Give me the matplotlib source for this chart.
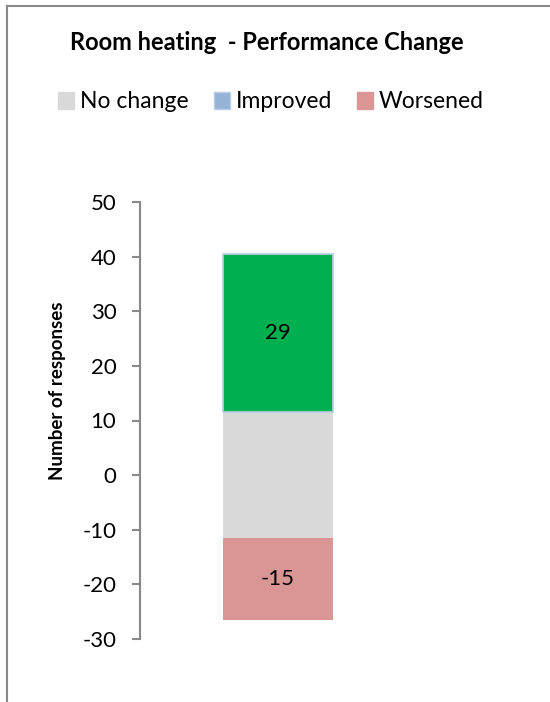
import matplotlib
matplotlib.use("Agg")
import matplotlib.pyplot as plt
from matplotlib.patches import Patch
from matplotlib.lines import Line2D

# data
categories = ["Room heating"]
no_change = [23]
improved = [29]
worsened = [-15]
series_names = ["No change", "Improved", "Worsened"]

plt.rcParams['font.family'] = ['Lato', 'DejaVu Sans']
plt.rcParams['axes.unicode_minus'] = False

c_none = "#d9d9d9"
c_imp = "#00b050"
c_imp_legend = "#95b3d7"
c_wor = "#da9694"
grey = "#898989"

fig = plt.figure(figsize=(5.5, 7.02), dpi=100)
ax = fig.add_axes([140/550, 1-639/702, 276/550, 437/702])

x = range(len(categories))
base = [-v/2 for v in no_change]
top = [b + v for b, v in zip(base, no_change)]
ax.bar(x, no_change, bottom=base, width=0.4, color=c_none, zorder=2)
ax.bar(x, improved, bottom=top, width=0.4, color=c_imp, edgecolor="#b9cde5", linewidth=1.2, zorder=3)
ax.bar(x, worsened, bottom=base, width=0.4, color=c_wor, zorder=2)

for i in x:
    ax.text(i, top[i] + improved[i]/2, str(improved[i]), ha="center", va="center", fontsize=16)
    ax.text(i, base[i] + worsened[i]/2, str(worsened[i]), ha="center", va="center", fontsize=16)

ax.set_xlim(-0.5, 0.5)
ax.set_ylim(-30, 50)
ax.set_yticks(range(-30, 51, 10))
ax.set_xticks([])
for s in ["top", "right", "bottom"]:
    ax.spines[s].set_visible(False)
ax.spines["left"].set_color(grey)
ax.spines["left"].set_linewidth(1.5)
ax.tick_params(axis="y", direction="out", length=6, width=1.5, color=grey, labelsize=16, pad=11)

fig.text(57/550, 1-391/702, "Number of responses", rotation=90, ha="center", va="center",
         fontsize=13.5, fontweight="bold")
fig.text(267/550, 1-43/702, "Room heating  - Performance Change", ha="center", va="center",
         fontsize=17, fontweight="bold")

handles = [
    Patch(facecolor=c_none, edgecolor=c_none, label=series_names[0]),
    Patch(facecolor=c_imp_legend, edgecolor="#b9cde5", label=series_names[1]),
    Patch(facecolor=c_wor, edgecolor=c_wor, label=series_names[2]),
]
fig.legend(handles=handles, loc="center", bbox_to_anchor=(271/550, 1-102/702), ncol=3,
           frameon=False, fontsize=16.5, handlelength=0.7, handleheight=0.7,
           handletextpad=0.25, columnspacing=1.1, borderaxespad=0)

# chart border (partly clipped)
fig.add_artist(Line2D([6.5/550, 6.5/550], [0, 1-5.5/702], color=grey, lw=1.5, transform=fig.transFigure))
fig.add_artist(Line2D([6.5/550, 1], [1-5.5/702, 1-5.5/702], color=grey, lw=1.5, transform=fig.transFigure))

fig.savefig("out.png", dpi=100)
